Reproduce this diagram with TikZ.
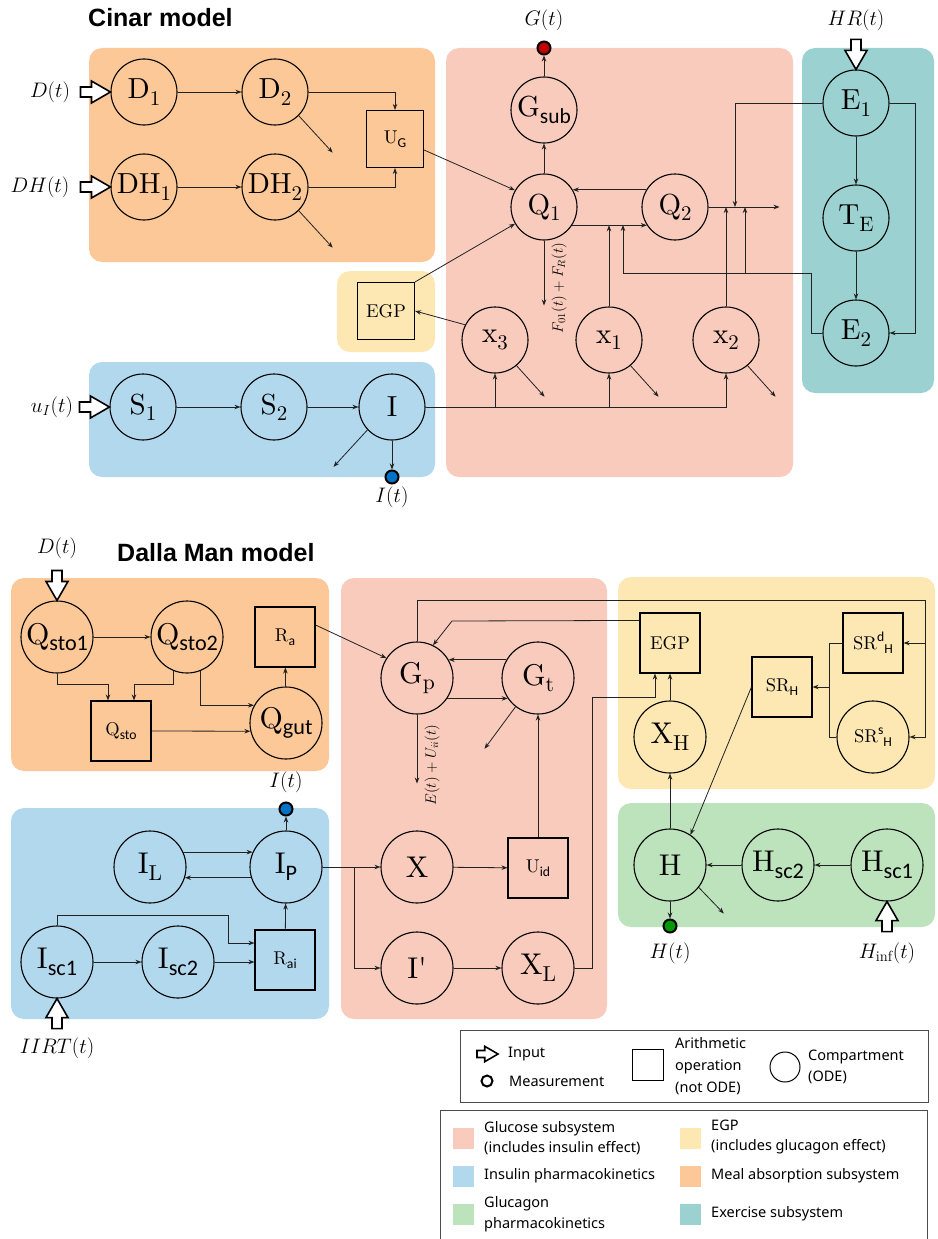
\RequirePackage{fix-cm}
\documentclass[tikz,border=0pt]{standalone}
\usepackage{fontspec}
\newfontfamily\legfont{Noto Sans}
\newfontfamily\ttlfont{Liberation Sans}
\newfontfamily\subfont{Carlito}
\newfontfamily\nodefont{lmroman10-regular}[Extension=.otf]
\usetikzlibrary{arrows.meta,calc}
\makeatletter
\newcommand\ssb[1]{\raisebox{-0.22em}{\subfont\fontsize{\fpeval{0.74*\f@size}}{0}\selectfont #1}}
\newcommand\rsb[1]{\raisebox{-0.22em}{\fontsize{\fpeval{0.72*\f@size}}{0}\selectfont #1}}
\newcommand\ssp[1]{\raisebox{0.42em}{\subfont\fontsize{\fpeval{0.74*\f@size}}{0}\selectfont #1}}
\makeatother
\definecolor{cmeal}{HTML}{FDC898}
\definecolor{cglu}{HTML}{F9CBBC}
\definecolor{cexe}{HTML}{9CD1D1}
\definecolor{cins}{HTML}{B2D8ED}
\definecolor{cegp}{HTML}{FDE8B4}
\definecolor{cgcg}{HTML}{BDE3BC}
\definecolor{lc}{HTML}{222222}
\definecolor{mred}{HTML}{C00000}
\definecolor{mblue}{HTML}{0072C6}
\definecolor{mgreen}{HTML}{009900}
\tikzset{inarr/.pic={\draw[line width=1.6pt,fill=white,line join=miter] (-30,-5) -- (-19,-5) -- (-19,-11) -- (0,0) -- (-19,11) -- (-19,5) -- (-30,5) -- cycle;}}
\begin{document}
\begin{tikzpicture}[x=1pt,y=-1pt,
  comp/.style={circle,draw=black,line width=1.1pt,minimum size=66pt,inner sep=0pt,font=\nodefont\fontsize{29}{31}\selectfont},
  compb/.style={comp,minimum size=72pt,font=\nodefont\fontsize{30}{32}\selectfont},
  op/.style={rectangle,draw=black,line width=1.1pt,minimum size=57pt,inner sep=0pt,font=\nodefont\fontsize{18.5}{20}\selectfont},
  opb/.style={op,minimum size=60pt},
  arr/.style={-{Stealth[length=6pt,width=4.5pt]},line width=0.8pt,draw=lc},
  ln/.style={line width=0.8pt,draw=lc},
  meas/.style={circle,draw=black,line width=2pt,minimum size=13pt,inner sep=0pt},
  lab/.style={font=\fontsize{21}{23}\selectfont,inner sep=0pt},
  rlab/.style={font=\fontsize{15}{17}\selectfont,rotate=90,inner sep=0pt},
  reg/.style={rounded corners=13pt},
  leg/.style={font=\legfont\fontsize{14.5}{20.5}\selectfont,anchor=west,align=left,inner sep=0pt},
  sw/.style={minimum size=21pt,inner sep=0pt},
  ttl/.style={font=\ttlfont\bfseries\fontsize{25}{27}\selectfont,anchor=west,inner sep=0pt},
]
\useasboundingbox (0,0) rectangle (937,1239);

% ---------------- regions -----------------
\fill[reg,cmeal] (89,48) rectangle (435,262);
\fill[reg,cglu] (446,48) rectangle (793,477);
\fill[reg,cexe] (802,48) rectangle (934,393);
\fill[reg,cegp] (337,271) rectangle (435,352);
\fill[reg,cins] (89,362) rectangle (435,477);
\fill[reg,cmeal] (11,578) rectangle (329,771);
\fill[reg,cglu] (341,578) rectangle (607,1019);
\fill[reg,cegp] (618,577) rectangle (935,789);
\fill[reg,cgcg] (618,803) rectangle (935,927);
\fill[reg,cins] (11,808) rectangle (329,1019);

% ---------------- titles -----------------
\node[ttl] (t1) at (88,18) {Cinar model};
\node[ttl] (t2) at (117,553) {Dalla Man model};

% ================= Cinar model ==================
\node[comp] (D1) at (144,92) {D\rsb{1}};
\node[comp] (D2) at (275,92) {D\rsb{2}};
\node[comp] (DH1) at (144,187) {DH\rsb{1}};
\node[comp] (DH2) at (275,187) {DH\rsb{2}};
\node[op] (UG) at (395,139) {U\ssb{G}};
\node[comp] (Gsub) at (544,110) {G\ssb{sub}};
\node[comp] (Q1) at (544,207) {Q\rsb{1}};
\node[comp] (Q2) at (675,207) {Q\rsb{2}};
\node[comp] (x3) at (495,340) {x\rsb{3}};
\node[comp] (x1) at (609,340) {x\rsb{1}};
\node[comp] (x2) at (726,340) {x\rsb{2}};
\node[op] (EGPc) at (386,311) {EGP};
\node[comp] (S1) at (143,407) {S\rsb{1}};
\node[comp] (S2) at (274,407) {S\rsb{2}};
\node[comp] (I) at (392,407) {I};
\node[comp] (E1) at (856,103) {E\rsb{1}};
\node[comp] (TE) at (856,218) {T\rsb{E}};
\node[comp] (E2) at (856,333) {E\rsb{2}};
\node[meas,fill=mred] (Gdot) at (544,48) {};
\node[meas,fill=mblue] (Idot) at (392,477) {};

\node[lab] (lD) at (50,92) {$D(t)$};
\node[lab] (lDH) at (40,187) {$DH(t)$};
\node[lab] (lu) at (52,407) {$u_I(t)$};
\node[lab] (lG) at (544,20) {$G(t)$};
\node[lab] (lI) at (392,497) {$I(t)$};
\node[lab] (lHR) at (856,20) {$HR(t)$};
\node[rlab] (lF) at (559,288) {$F_{01}(t)+F_R(t)$};

\pic at (D1.west) {inarr};
\pic at (DH1.west) {inarr};
\pic at (S1.west) {inarr};
\pic[rotate=-90] at (E1.north) {inarr};

\draw[arr] (D1) -- (D2);
\draw[arr] (DH1) -- (DH2);
\draw[arr] (D2.east) -| (UG.north);
\draw[arr] (DH2.east) -| (UG.south);
\draw[arr] (D2.-45) -- ++(34,37);
\draw[arr] (DH2.-45) -- ++(34,37);
\draw[arr] ($(UG.east)+(0,11)$) -- (Q1.150);
\draw[arr] (EGPc.north east) -- (Q1.210);
\draw[arr] (x3.153) -- (EGPc.east);
\draw[arr] (Q1) -- (Gsub);
\draw[arr] (Gsub.north) -- (Gdot.south);
\draw[arr] (Q2.149) -- (Q1.31);
\draw[arr] (Q1.-33) -- (Q2.213);
\draw[arr] (Q1.south) -- ++(0,65);
\draw[arr] (Q2.east) -- ++(71,0);
\draw[arr] (x1.north) -- (x1.north |- Q1.-33);
\draw[arr] (x2.north) -- (x2.north |- Q2.east);
\coordinate (k1) at (623,225);
\coordinate (k2) at (623,273);
\coordinate (k3) at (745,273);
\coordinate (k4) at (745,207);
\coordinate (k5) at (735,207);
\draw[arr] (E2.west) -- ++(-11,0) |- (k2) -- (k1);
\draw[arr] (k3) -- (k4);
\draw[arr] (E1.west) -| (k5);
\draw[arr] (E1) -- (TE);
\draw[arr] (TE) -- (E2);
\draw[arr] (E1.east) -- ++(26,0) |- (E2.east);
\draw[arr] (x3.-50) -- ++(28,31);
\draw[arr] (x1.-50) -- ++(28,31);
\draw[arr] (x2.-50) -- ++(28,31);
\draw[arr] (S1) -- (S2);
\draw[arr] (S2) -- (I);
\draw[arr] (I.east) -| (x2.south);
\draw[arr] (I.east -| x3.south) -- (x3.south);
\draw[arr] (I.east -| x1.south) -- (x1.south);
\draw[arr] (I.-137) -- ++(-34,37);
\draw[arr] (I.south) -- (Idot.north);

% ================= Dalla Man model ==================
\node[compb] (Qs1) at (57,637) {Q\ssb{sto1}};
\node[compb] (Qs2) at (187,637) {Q\ssb{sto2}};
\node[opb] (Qs) at (121,731) {Q\ssb{sto}};
\node[opb] (Ra) at (285,637) {R\ssb{a}};
\node[compb] (Qg) at (286,723) {Q\ssb{gut}};
\node[compb] (Gp) at (417,678) {G\rsb{p}};
\node[compb] (Gt) at (538,678) {G\rsb{t}};
\node[compb] (X) at (417,867) {X};
\node[opb] (Uid) at (538,868) {U\ssb{id}};
\node[compb] (Ip) at (417,968) {I\textquotesingle};
\node[compb] (XL) at (538,968) {X\rsb{L}};
\node[opb] (EGPd) at (670,643) {EGP};
\node[compb] (XH) at (670,737) {X\rsb{H}};
\node[opb] (SRH) at (782,687) {SR\ssb{H}};
\node[opb] (SRd) at (873,643) {SR\ssp{d}\ssb{H}};
\node[compb,font=\nodefont\fontsize{18.5}{20}\selectfont] (SRs) at (873,737) {SR\ssp{s}\ssb{H}};
\node[compb] (H) at (670,865) {H};
\node[compb] (Hs2) at (778,865) {H\ssb{sc2}};
\node[compb] (Hs1) at (887,865) {H\ssb{sc1}};
\node[compb] (IL) at (150,867) {I\rsb{L}};
\node[compb] (IP) at (286,867) {I\ssb{P}};
\node[compb] (Is1) at (57,962) {I\ssb{sc1}};
\node[compb] (Is2) at (178,962) {I\ssb{sc2}};
\node[opb] (Rai) at (285,960) {R\ssb{ai}};
\node[meas,fill=mblue] (Idot2) at (286,809) {};
\node[meas,fill=mgreen] (Hdot) at (670,926) {};

\node[lab] (lD2) at (57,548) {$D(t)$};
\node[lab] (lI2) at (286,782) {$I(t)$};
\node[lab] (lH) at (670,953) {$H(t)$};
\node[lab] (lHinf) at (887,953) {$H_{\mathrm{inf}}(t)$};
\node[lab] (lIIRT) at (57,1048) {$IIRT(t)$};
\node[rlab] (lE) at (432,765) {$E(t)+U_{ii}(t)$};

\pic[rotate=-90] at (Qs1.north) {inarr};
\pic[rotate=90] at (Is1.south) {inarr};
\pic[rotate=90] at (Hs1.south) {inarr};

\draw[arr] (Qs1) -- (Qs2);
\draw[arr] (Qs1.south) |- ($(Qs.north)+(-13,-16)$) -- ($(Qs.north)+(-13,0)$);
\draw[arr] (Qs2.-112) |- ($(Qs.north)+(13,-16)$) -- ($(Qs.north)+(13,0)$);
\draw[arr] (Qs2.-68) |- (Qg.151);
\draw[arr] (Qs.east) -- (Qg.193);
\draw[arr] (Qg) -- (Ra);
\draw[arr] ($(Ra.east)+(0,-12)$) -- (Gp.147);
\draw[arr] (Gt.150) -- (Gp.30);
\draw[arr] (Gp.-34) -- (Gt.214);
\draw[arr] (Gt.-128) -- ++(-31,42);
\draw[arr] (Gp.south) -- ++(0,69);
\draw[arr] (Uid) -- (Gt);
\draw[arr] (X) -- (Uid);
\draw[arr] (Ip) -- (XL);
\draw[arr] (IP.east) -- (X.west);
\coordinate (k11) at (354,867);
\draw[arr] (k11) |- (Ip.west);
\draw[arr] (XL.east) -- ++(18,0) |- ($(EGPd.south)+(-15,24)$) -- ($(EGPd.south)+(-15,0)$);
\draw[arr] (XH) -- (EGPd);
\coordinate (k6) at (925,600);
\draw[arr] (Gp.north) |- (k6) |- (SRd.east);
\coordinate (k12) at (925,643);
\draw[arr] (k12) |- (SRs.east);
\coordinate (k7) at (452,621);
\draw[arr] ($(EGPd.north west)+(0,8)$) -- (k7) -- (Gp.64);
\coordinate (k8) at (829,737);
\draw[ln] (SRd.west) -| (k8) -- (SRs.west);
\draw[arr] (k8 |- SRH.east) -- (SRH.east);
\draw[arr] (SRH.west) -- (H.56);
\draw[arr] (H) -- (XH);
\draw[arr] (Hs1) -- (Hs2);
\draw[arr] (Hs2) -- (H);
\draw[arr] (H.-38) -- ++(25,26);
\draw[arr] (H.south) -- (Hdot.north);
\draw[arr] (IL.24) -- (IP.156);
\draw[arr] (IP.197) -- (IL.-17);
\draw[arr] (Is1) -- (Is2);
\draw[arr] (Is2.east) -- (Is2.east -| Rai.west);
\coordinate (k10) at (228,915);
\draw[arr] (Is1.north) |- (k10) |- ($(Rai.west)+(0,-17)$);
\draw[arr] (Rai) -- (IP);
\draw[arr] (IP.north) -- (Idot2.south);

% ================= legends ==================
\draw[line width=1pt,draw=black!70] (460,1030) rectangle (928,1102);
\pic[scale=0.7] at (498,1054) {inarr};
\node[leg] (li) at (508,1054) {Input};
\node[circle,draw=black,line width=2pt,minimum size=11pt,inner sep=0pt] (lm) at (487,1081) {};
\node[leg] (lmt) at (509,1081) {Measurement};
\node[rectangle,draw=black,line width=1pt,minimum size=31pt,inner sep=0pt] (lsq) at (648,1065) {};
\node[leg,font=\legfont\fontsize{14.5}{22}\selectfont] (lsqt) at (675,1066) {Arithmetic\\operation\\(not ODE)};
\node[circle,draw=black,line width=1pt,minimum size=30pt,inner sep=0pt] (lci) at (785,1067) {};
\node[leg] (lcit) at (808,1067) {Compartment\\(ODE)};

\draw[line width=1pt,draw=black!70] (440,1110) rectangle (927,1250);
\node[sw,fill=cglu] (s1) at (463,1138) {};
\node[sw,fill=cins] (s2) at (463,1176) {};
\node[sw,fill=cgcg] (s3) at (463,1214) {};
\node[sw,fill=cegp] (s4) at (690,1138) {};
\node[sw,fill=cmeal] (s5) at (690,1176) {};
\node[sw,fill=cexe] (s6) at (690,1214) {};
\node[leg] (st1) at (484,1138) {Glucose subsystem\\(includes insulin effect)};
\node[leg] (st2) at (484,1176) {Insulin pharmacokinetics};
\node[leg] (st3) at (484,1214) {Glucagon\\pharmacokinetics};
\node[leg] (st4) at (711,1137) {EGP\\(includes glucagon effect)};
\node[leg] (st5) at (711,1176) {Meal absorption subsystem};
\node[leg] (st6) at (711,1214) {Exercise subsystem};
\end{tikzpicture}
\end{document}
